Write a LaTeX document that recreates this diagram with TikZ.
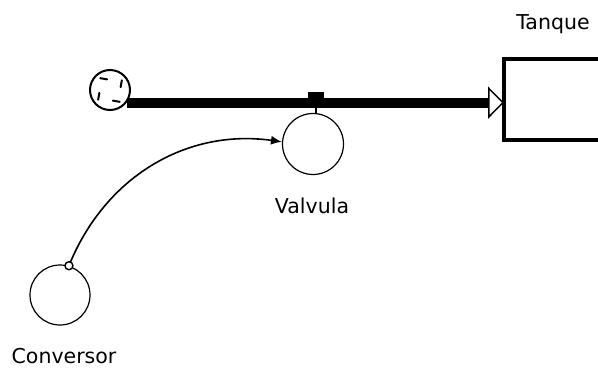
\documentclass[tikz,border=0pt]{standalone}
\usepackage{fontspec}
\setmainfont{DejaVu Sans}
\usetikzlibrary{arrows.meta}
\tikzset{
  lbl/.style={anchor=base,font=\fontsize{20.5}{24}\selectfont},
  aux/.style={circle,draw,line width=1.2pt,minimum size=61pt,inner sep=0pt},
  pipe/.style={line width=10pt,line cap=butt,-{Triangle[open,length=16pt,width=32pt,line width=1.5pt]}}
}
\begin{document}
\begin{tikzpicture}[x=1pt,y=1pt,line cap=round]
  \clip (0,0) rectangle (598,-369);
  \node[draw,line width=4pt,outer sep=0pt,inner sep=0pt,anchor=west,minimum width=120pt,minimum height=81pt] (tank) at (504,-99.5) {};
  \node[circle,draw,fill=white,line width=2pt,minimum size=40pt,inner sep=0pt] (cloud) at (110,-90) {};
  \draw[pipe] (cloud.-37) -- (cloud.-37 -| tank.west);
  \foreach \a in {15,105,195,285} \draw[line width=2pt] ([shift={(\a:11)}]cloud.center) -- ++({\a+65}:7);
  \node[fill,minimum width=16pt,minimum height=7pt,inner sep=0pt,anchor=south] (gate) at (316,-99) {};
  \node[aux] (valvula) at (313,-144) {}; \node[aux,minimum size=60pt] (conversor) at (60,-295) {};
  \draw[line width=1.2pt] (gate.south) -- (gate.south |- valvula.north);
  \draw[line width=1.6pt,-{Latex[length=11pt,width=9pt]}] (conversor.73) to[out=68,in=172] (valvula.176);
  \node[circle,draw,fill=white,line width=1.4pt,minimum size=8pt,inner sep=0pt] (tap) at (conversor.73) {};
  \node[lbl] (tanklbl) at (553,-30) {Tanque}; \node[lbl] (valvlbl) at (312,-213) {Valvula}; \node[lbl] (convlbl) at (64,-363) {Conversor};
\end{tikzpicture}
\end{document}
